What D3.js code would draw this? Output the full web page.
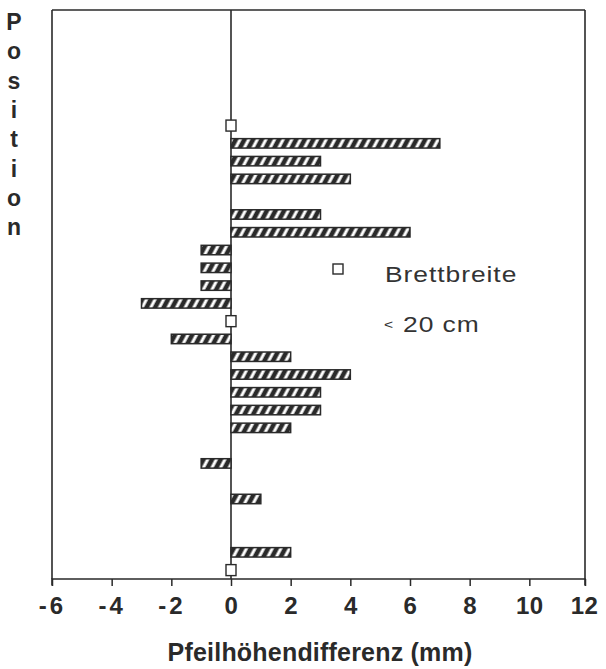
<!DOCTYPE html>
<html>
<head>
<meta charset="utf-8">
<script src="https://cdn.jsdelivr.net/npm/d3@7"></script>
<style>
  html, body { margin: 0; padding: 0; background: #fff; }
  svg { display: block; }
</style>
</head>
<body>
<svg id="chart" width="606" height="669"></svg>
<script>
// ---- data ----
const positionCount = 32;                 // slots on the vertical axis (1 = bottom)
const barPositions = [25, 24, 23, 21, 20, 19, 18, 17, 16, 14, 13, 12, 11, 10, 9, 7, 5, 2];
const barValues    = [ 7,  3,  4,  3,  6, -1, -1, -1, -3, -2,  2,  4,  3,  3, 2, -1, 1, 2];
const squarePositions = [26, 15, 1];      // narrow boards (< 20 cm), difference 0
const squareValues    = [0, 0, 0];
const xTicks = [-6, -4, -2, 0, 2, 4, 6, 8, 10, 12];
const xDomain = [-6, 12];
const yLabel = "Position";
const xLabel = "Pfeilhöhendifferenz (mm)";
const legendLine1 = "Brettbreite";
const legendLine2 = "20 cm";

(function () {
// ---- layout ----
const svg = d3.select("#chart");
const L = 52, R = 589, T = 10, B = 579;
const ink = "#2a2a2a";

const x = d3.scaleLinear().domain(xDomain).range([L, R]);
const y = d3.scaleBand()
  .domain(d3.range(1, positionCount + 1))
  .range([B, T])
  .paddingInner(0.47).paddingOuter(0.235);

// hatch pattern
const defs = svg.append("defs");
const pat = defs.append("pattern")
  .attr("id", "hatch").attr("patternUnits", "userSpaceOnUse")
  .attr("width", 7.6).attr("height", 20)
  .attr("patternTransform", "rotate(28)");
pat.append("rect").attr("width", 7.6).attr("height", 20).attr("fill", ink);
pat.append("rect").attr("x", 2.4).attr("width", 3.0).attr("height", 20).attr("fill", "#fff");

const xr = x(xDomain[1]) - 4;
// frame (top, left, right)
const frame = svg.append("g").attr("fill", "none").attr("stroke", ink).attr("stroke-width", 1.6);
frame.append("line").attr("x1", x(xDomain[0])).attr("x2", xr).attr("y1", T).attr("y2", T);
frame.append("line").attr("x1", x(xDomain[0])).attr("x2", x(xDomain[0])).attr("y1", T).attr("y2", B);
frame.append("line").attr("x1", xr).attr("x2", xr).attr("y1", T).attr("y2", B);

// zero line
svg.append("line")
  .attr("x1", x(0)).attr("x2", x(0)).attr("y1", T).attr("y2", B)
  .attr("stroke", ink).attr("stroke-width", 1.6);

// bars
svg.append("g").selectAll("rect")
  .data(barPositions.map((p, i) => ({ p, v: barValues[i] })))
  .join("rect")
  .attr("x", d => x(Math.min(0, d.v)))
  .attr("width", d => Math.abs(x(d.v) - x(0)))
  .attr("y", d => y(d.p))
  .attr("height", y.bandwidth())
  .attr("fill", "url(#hatch)")
  .attr("stroke", ink).attr("stroke-width", 1.5);

// squares (narrow boards)
const sq = 10;
svg.append("g").selectAll("rect")
  .data(squarePositions.map((p, i) => ({ p, v: squareValues[i] })))
  .join("rect")
  .attr("x", d => x(d.v) - sq / 2)
  .attr("y", d => y(d.p) + y.bandwidth() / 2 - sq / 2 - 0.5)
  .attr("width", sq).attr("height", sq + 1)
  .attr("fill", "#fff").attr("stroke", ink).attr("stroke-width", 1.4);

// x axis
const xAxis = d3.axisBottom(x).tickValues(xTicks).tickSize(7).tickPadding(11)
  .tickFormat(d => String(d));
const gx = svg.append("g").attr("transform", `translate(0,${B})`).call(xAxis);
gx.select(".domain").attr("stroke", ink).attr("stroke-width", 1.6)
  .attr("d", `M${x(xDomain[0])},6.5V0H${xr}V6.5`);
gx.selectAll(".tick line").attr("stroke", ink).attr("stroke-width", 1.5);
gx.selectAll(".tick").filter(d => d === 12).select("line").attr("x1", -4).attr("x2", -4);
gx.selectAll(".tick text")
  .attr("fill", ink)
  .style("font-family", "'Liberation Sans', Arial, sans-serif")
  .style("font-weight", "bold")
  .style("font-size", "24px")
  .style("letter-spacing", d => d < 0 ? "3px" : "0.5px");
gx.selectAll(".tick").filter(d => d === 12).select("text").attr("dx", -5);

// x label
svg.append("text")
  .attr("x", 320).attr("y", 661)
  .attr("text-anchor", "middle")
  .attr("fill", ink)
  .style("font-family", "'Liberation Sans', Arial, sans-serif")
  .style("font-weight", "bold")
  .style("font-size", "25px")
  .style("letter-spacing", "0.2px")
  .text(xLabel);

// y label, stacked letters
svg.append("g").selectAll("text")
  .data(yLabel.split(""))
  .join("text")
  .attr("x", 14)
  .attr("y", (d, i) => 30 + i * 29.3)
  .attr("text-anchor", "middle")
  .attr("fill", ink)
  .style("font-family", "'Liberation Sans', Arial, sans-serif")
  .style("font-weight", "bold")
  .style("font-size", "23px")
  .text(d => d);

// legend
svg.append("rect")
  .attr("x", 333).attr("y", 264).attr("width", 10).attr("height", 10)
  .attr("fill", "#fff").attr("stroke", ink).attr("stroke-width", 1.4);
svg.append("text")
  .attr("transform", "translate(385,282) scale(1.2,1)")
  .attr("fill", "#333")
  .style("font-family", "'Liberation Sans', Arial, sans-serif")
  .style("font-size", "22px")
  .style("letter-spacing", "0.8px")
  .text(legendLine1);
svg.append("text")
  .attr("transform", "translate(384,329) scale(1.2,1)")
  .attr("fill", "#333")
  .style("font-family", "'Liberation Sans', Arial, sans-serif")
  .style("font-size", "13px")
  .text("<");
svg.append("text")
  .attr("transform", "translate(403,332) scale(1.2,1)")
  .attr("fill", "#333")
  .style("font-family", "'Liberation Sans', Arial, sans-serif")
  .style("font-size", "22px")
  .style("letter-spacing", "0.8px")
  .text(legendLine2);
})();
</script>
</body>
</html>
